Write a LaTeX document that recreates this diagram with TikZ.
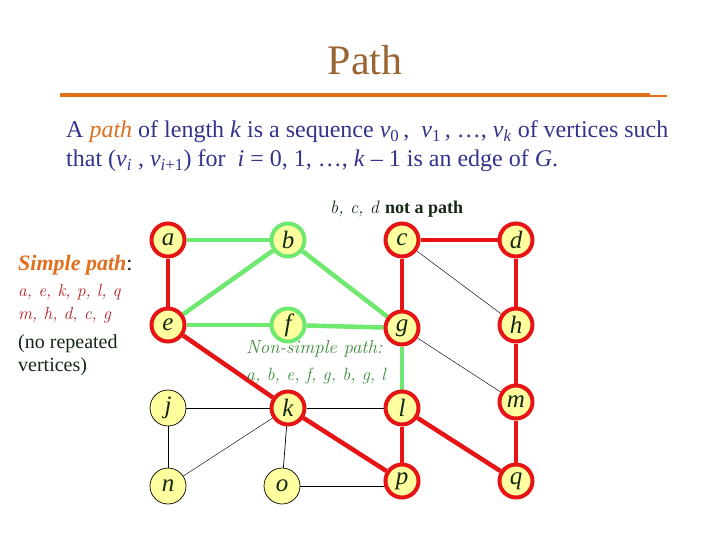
\documentclass[tikz,border=0pt]{standalone}
\usepackage{fontspec}
\usetikzlibrary{backgrounds}
\newfontfamily\tms{Liberation Serif}
\definecolor{titlebrown}{RGB}{153,102,51}
\definecolor{ruleorange}{RGB}{230,110,20}
\definecolor{bodyblue}{RGB}{51,51,140}
\definecolor{pathorange}{RGB}{225,110,30}
\definecolor{nodefill}{RGB}{255,255,160}
\definecolor{ered}{RGB}{230,20,20}
\definecolor{egreen}{RGB}{110,232,110}
\definecolor{darktext}{RGB}{20,40,20}
\definecolor{simplered}{RGB}{180,30,40}
\definecolor{nsgreen}{RGB}{60,140,60}
\tikzset{
  vtx/.style={circle, fill=nodefill, minimum size=33pt, inner sep=0pt,
    text=darktext, font=\tms\itshape\fontsize{25}{25}\selectfont},
  vred/.style={vtx, draw=ered, line width=4pt},
  vgreen/.style={vtx, draw=egreen, line width=4pt},
  vthin/.style={vtx, draw=black, line width=0.7pt, minimum size=36pt},
  redge/.style={draw=ered, line width=4.5pt},
  gedge/.style={draw=egreen, line width=4.5pt},
  tedge/.style={draw=black, line width=0.7pt},
  hedge/.style={draw=black, line width=0.45pt},
  bodytext/.style={anchor=base west, text=bodyblue, inner sep=0pt, font=\tms\fontsize{24}{28}\selectfont},
}
\begin{document}
\begin{tikzpicture}[x=1pt,y=-1pt]
\useasboundingbox (0,0) rectangle (720,540);
% title
\node[text=titlebrown, font=\tms\fontsize{42}{42}\selectfont, anchor=base] (title) at (365,75) {Path};
\coordinate (r1) at (60,95);
\coordinate (r2) at (650,95);
\coordinate (r3) at (650,96);
\coordinate (r4) at (667,96);
\draw[ruleorange, line width=3.5pt] (r1) -- (r2);
\draw[ruleorange, line width=2.5pt] (r3) -- (r4);
% body text
\node[bodytext] (line1) at (66,138)
  {A \textcolor{pathorange}{\itshape path} of length \textit{k} is a sequence \textit{v}\textsubscript{0}\,,\ \ \textit{v}\textsubscript{1}\,, \dots, \textit{v}\textsubscript{\textit{k}} of vertices such};
\node[bodytext] (line2) at (66,167)
  {that (\textit{v}\textsubscript{\textit{i}} , \textit{v}\textsubscript{\textit{i}+1}) for\ \ \textit{i} = 0, 1, \dots, \textit{k} – 1 is an edge of \textit{G}.};
% annotation
\node[anchor=base west, inner sep=0pt, text=darktext, font=\fontsize{18}{20}\selectfont] (notpath) at (330,214)
  {\itshape b, c, d \upshape\tms\bfseries not a path};
% left text
\node[anchor=base west, inner sep=0pt, font=\tms\fontsize{22}{24}\selectfont] (simple) at (18,270)
  {\textcolor{pathorange}{\bfseries\itshape Simple path}\textcolor{darktext}{:}};
\node[anchor=base west, inner sep=0pt, text=simplered, font=\itshape\fontsize{17.5}{20}\selectfont] (sp1) at (18,296) {a, e, k, p, l, q};
\node[anchor=base west, inner sep=0pt, text=simplered, font=\itshape\fontsize{17.5}{20}\selectfont] (sp2) at (18,319) {m, h, d, c, g};
\node[anchor=base west, inner sep=0pt, text=darktext, font=\tms\fontsize{20}{22}\selectfont] (nr1) at (18,348) {(no repeated};
\node[anchor=base west, inner sep=0pt, text=darktext, font=\tms\fontsize{20}{22}\selectfont] (nr2) at (18,371) {vertices)};
% non-simple
\node[anchor=base west, inner sep=0pt, text=nsgreen, font=\itshape\fontsize{18.8}{20}\selectfont] (ns1) at (246,353) {Non-simple path:};
\node[anchor=base west, inner sep=0pt, text=nsgreen, font=\itshape\fontsize{17.8}{20}\selectfont] (ns2) at (246,380) {a, b, e, f, g, b, g, l};
% vertices
\node[vred] (a) at (168,240) {a};
\node[vgreen] (b) at (288,240) {b};
\node[vred] (c) at (402,240) {c};
\node[vred] (d) at (516,240) {d};
\node[vred] (e) at (168,325) {e};
\node[vgreen] (f) at (288,325) {f};
\node[vred] (g) at (402,328) {g};
\node[vred] (h) at (516,325) {h};
\node[vthin] (j) at (168,408) {j};
\node[vred] (k) at (288,408) {k};
\node[vred] (l) at (402,408) {l};
\node[vred] (m) at (516,402) {m};
\node[vthin] (n) at (168,486) {n};
\node[vthin] (o) at (282,486) {o};
\node[vred] (p) at (402,481) {p};
\node[vred] (q) at (516,481) {q};
% edges (behind nodes)
\begin{scope}[on background layer]
\draw[hedge] (c) -- (h);
\draw[hedge] (g) -- (m);
\draw[hedge] (n) -- (k);
\draw[tedge] (j) -- (k);
\draw[tedge] (j) -- (n);
\draw[tedge] (k) -- (o);
\draw[tedge] (k) -- (l);
\draw[tedge] (o.east) -- (o.east -| p.center);
\draw[gedge] (a) -- (b);
\draw[gedge] (b) -- (e);
\draw[gedge] (b) -- (g);
\draw[gedge] (e) -- (f);
\draw[gedge] (f) -- (g);
\draw[gedge] (g) -- (l);
\draw[redge] (a) -- (e);
\draw[redge] (e) -- (k);
\draw[redge] (k) -- (p);
\draw[redge] (l) -- (p);
\draw[redge] (l) -- (q);
\draw[redge] (c) -- (d);
\draw[redge] (c) -- (g);
\draw[redge] (d) -- (h);
\draw[redge] (h) -- (m);
\draw[redge] (m) -- (q);
\end{scope}
\end{tikzpicture}
\end{document}
